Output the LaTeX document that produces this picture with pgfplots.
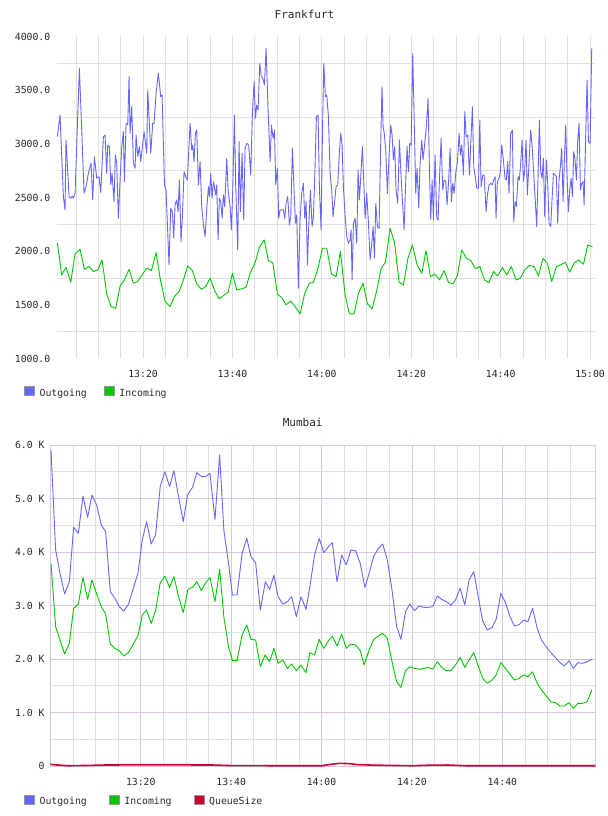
\documentclass[border=0pt]{standalone}
\usepackage{fontspec}
\setmainfont{DejaVu Sans Mono}
\usepackage{pgfplots}
\pgfplotsset{compat=1.18}

\definecolor{outblue}{RGB}{102,102,255}
\definecolor{ingreen}{RGB}{0,200,0}
\definecolor{queuered}{RGB}{204,0,51}
\definecolor{gridgray}{RGB}{224,224,224}
\definecolor{gridlav}{RGB}{218,196,224}
\definecolor{legendgray}{RGB}{150,150,150}
\definecolor{textgray}{RGB}{40,40,40}

\pgfplotsset{
  monitor/.style={
    scale only axis, anchor=south west, clip=false,
    font=\fontsize{9.8bp}{11bp}\selectfont,
    every tick label/.append style={text=textgray},
    major tick length=0pt, minor tick length=0pt,
    tick style={draw=none},
    xticklabel style={anchor=north, inner sep=0pt},
    yticklabel style={anchor=east, inner sep=0pt},
    title style={anchor=center, inner sep=0pt, text=textgray,
      font=\fontsize{11bp}{13bp}\selectfont},
    legend cell align=left,
    legend image code/.code={
      \draw[#1, fill, draw=legendgray, line width=0.6bp, solid]
        (0bp,-1.8bp) rectangle (10bp,7.2bp);},
    legend style={draw=none, fill=none, inner sep=0pt, outer sep=0pt,
      legend columns=-1, text=textgray,
      nodes={inner sep=0pt},
      /tikz/every odd column/.append style={column sep=5bp}},
  },
  traffic/.style={line width=0.9bp, line join=round, mark=none},
}

\begin{document}
\begin{tikzpicture}
\useasboundingbox (0,0) rectangle (608bp,816bp);

% ---------------- Frankfurt ----------------
\begin{axis}[monitor,
  at={(57bp,457.5bp)}, width=538bp, height=322bp,
  xmin=0.75, xmax=121.1, ymin=1000, ymax=4000,
  axis line style={draw=none},
  xtick={20,40,60,80,100,120},
  xticklabels={13:20,13:40,14:00,14:20,14:40,15:00},
  minor xtick={5,10,...,120},
  xmajorgrids, xminorgrids,
  ytick={1000,1500,...,4000},
  yticklabels={1000.0,1500.0,2000.0,2500.0,3000.0,3500.0,4000.0},
  minor ytick={1250,1750,...,3750},
  yminorgrids,
  major grid style={gridgray, line width=0.8bp},
  minor grid style={gridgray, line width=0.8bp},
  xticklabel style={yshift=-11.5bp},
  yticklabel style={xshift=-6.5bp},
  title={Frankfurt},
  title style={at={(axis description cs:0.46,1)}, yshift=16.5bp},
  legend style={at={(axis description cs:-0.0613,-0.1034)}, anchor=west,
    /tikz/every even column/.append style={column sep=17bp}},
]
\addplot[traffic, color=outblue] coordinates {
(0.84,3067) (1.43,3269) (2.18,2508) (2.55,2384) (2.77,3036) (3.45,2508) (3.82,2493) (4.19,2514)
(4.42,2493) (4.79,2539) (5.76,3703) (6.28,3129) (6.80,2539) (7.25,2601) (7.77,2725) (8.37,2818)
(8.74,2477) (9.11,2881) (9.64,2679) (10.16,2694) (10.53,2545) (11.13,3067) (11.50,3082) (11.87,2725)
(12.10,2989) (12.47,2974) (12.77,2617) (13.07,2725) (13.51,2462) (13.81,2896) (14.11,2818) (14.48,2306)
(14.86,2663) (15.23,2974) (15.60,3113) (15.83,2648) (16.20,3191) (16.57,3175) (16.87,3626) (17.10,3098)
(17.47,3346) (17.84,2818) (18.22,2772) (18.44,3082) (18.81,2881) (19.18,2974) (19.48,2834) (20.23,3113)
(20.82,2912) (21.05,3502) (21.72,2912) (22.16,3191) (22.46,3191) (22.91,3470) (23.43,3657) (23.95,3440)
(24.25,3455) (24.80,2610) (25.14,2570) (25.81,1872) (26.19,2400) (26.56,2368) (26.86,2120) (27.16,2430)
(27.53,2477) (27.83,2368) (28.13,2663) (28.50,2089) (28.80,2322) (29.17,2741) (29.54,2694) (29.92,2663)
(30.51,3191) (30.89,2943) (31.11,2989) (31.41,2834) (31.71,3098) (32.01,3129) (32.38,2617) (32.75,2834)
(33.13,2415) (33.50,2244) (33.87,2136) (34.24,2384) (34.62,2601) (34.84,2508) (35.14,2725) (35.44,2493)
(35.74,2648) (35.96,2601) (36.26,2524) (36.48,2617) (36.78,2105) (37.08,2493) (37.38,2462) (37.68,2306)
(37.97,2524) (38.27,2415) (38.72,2865) (39.02,2570) (39.47,2415) (39.76,2198) (40.06,2570) (40.44,3269)
(40.73,2601) (41.18,2011) (41.48,3020) (41.78,2368) (42.15,2912) (42.52,2291) (42.82,2958) (43.20,3005)
(43.64,2989) (44.09,2710) (44.46,3284) (44.84,3579) (45.14,3238) (45.43,3362) (45.73,3315) (46.11,3750)
(46.40,3641) (46.78,3610) (47.15,3548) (47.52,3890) (47.97,3315) (48.42,2834) (48.72,3175) (49.10,3051)
(49.40,3129) (49.68,2617) (50.05,2772) (50.35,2306) (50.65,2384) (51.02,2384) (51.39,2384) (51.69,2306)
(51.99,2446) (52.36,2508) (52.74,2244) (53.04,2322) (53.41,2958) (53.78,2570) (54.08,2260) (54.38,2337)
(54.75,1654) (55.12,2291) (55.50,2539) (55.87,2632) (56.17,2306) (56.47,2462) (56.77,1872) (57.06,2229)
(57.44,2570) (57.81,2229) (58.11,2322) (58.48,2787) (58.78,3253) (59.15,3269) (59.45,2601) (59.82,2198)
(60.12,3067) (60.42,3750) (60.79,3440) (61.09,3455) (61.47,3253) (61.84,2725) (62.21,2570) (62.51,2322)
(62.81,2446) (63.18,2601) (63.55,2617) (63.93,2927) (64.23,3098) (64.52,2989) (64.82,2601) (65.20,2322)
(65.57,2136) (65.94,2074) (66.31,2105) (66.54,2198) (66.76,1732) (67.06,2260) (67.43,2306) (67.81,2074)
(68.10,2756) (68.40,2477) (68.70,2694) (69.07,2974) (69.37,2648) (69.67,2306) (70.04,2539) (70.42,2260)
(70.79,1918) (71.16,2074) (71.46,2229) (71.76,1934) (72.06,2446) (72.43,2229) (72.80,2213) (73.18,3036)
(73.45,3533) (73.70,3160) (73.95,3098) (74.29,2943) (74.66,2539) (75.03,2881) (75.41,3175) (75.71,3082)
(76.00,2850) (76.30,2974) (76.60,2570) (76.97,2446) (77.35,3036) (77.72,2694) (78.02,2477) (78.39,2198)
(78.76,2648) (79.06,2974) (79.36,2741) (79.66,3005) (79.96,2989) (80.33,3843) (80.70,3129) (81.00,2539)
(81.30,2772) (81.67,2400) (81.97,2818) (82.35,3036) (82.64,2850) (82.94,2974) (83.31,3129) (83.76,3424)
(84.06,2756) (84.36,2291) (84.66,2663) (84.96,2291) (85.33,2896) (85.70,2306) (86.00,2291) (86.30,2663)
(86.67,3051) (87.04,2570) (87.34,2663) (87.72,2648) (88.01,2430) (88.39,2679) (88.69,2958) (88.98,2462)
(89.28,2632) (89.58,2539) (89.95,2725) (90.33,2834) (90.70,3098) (91.00,2896) (91.30,2989) (91.67,2710)
(91.97,3300) (92.27,3067) (92.64,3082) (93.01,2710) (93.31,3005) (93.68,3346) (93.98,2787) (94.36,2679)
(94.65,2586) (95.03,2586) (95.33,3222) (95.62,2601) (96.00,2710) (96.30,2710) (96.74,2368) (97.04,2524)
(97.41,2617) (97.79,2632) (98.09,2617) (98.46,2663) (98.76,2694) (98.96,2306) (99.26,2648) (99.63,2679)
(99.93,2741) (100.23,2989) (100.60,2850) (100.98,2679) (101.27,2663) (101.57,2834) (101.87,2539) (102.24,3098)
(102.62,3129) (102.92,2275) (103.21,2462) (103.51,2415) (103.89,2694) (104.18,2663) (104.48,2818) (104.78,3036)
(105.08,2648) (105.38,2756) (105.68,3036) (105.97,2524) (106.35,2834) (106.72,3129) (107.09,2943) (107.39,2725)
(107.69,2508) (108.06,2229) (108.36,2694) (108.66,3222) (108.96,2741) (109.26,2679) (109.56,2865) (109.85,2322)
(110.23,2850) (110.52,2632) (110.82,2260) (111.20,2229) (111.49,2477) (111.79,2725) (112.17,2710) (112.46,2694)
(112.76,2260) (113.06,2663) (113.36,2787) (113.66,2958) (113.96,2462) (114.25,2850) (114.55,3175) (114.85,2694)
(115.15,2368) (115.45,2570) (115.75,2679) (116.05,2508) (116.34,2927) (116.64,2850) (116.94,2663) (117.24,3036)
(117.54,3191) (117.84,2570) (118.13,2632) (118.43,2648) (118.66,2431) (119.03,3098) (119.33,3594) (119.63,3020)
(120.00,3005) (120.37,3890) (120.52,3890)
};
\addlegendentry{Outgoing}
\addplot[traffic, color=ingreen] coordinates {
(0.84,2074) (1.80,1779) (2.77,1850) (3.82,1710) (4.79,1974) (5.91,2018) (6.88,1831) (7.92,1856)
(8.89,1810) (9.86,1825) (10.83,1918) (11.87,1602) (12.85,1484) (13.89,1468) (14.86,1676) (15.83,1732)
(16.87,1831) (17.84,1701) (18.81,1717) (19.86,1785) (20.83,1841) (21.87,1819) (22.91,1987) (23.81,1748)
(24.93,1530) (26.04,1484) (27.01,1577) (28.05,1624) (29.02,1732) (29.99,1862) (31.04,1819) (32.01,1695)
(33.05,1645) (34.02,1670) (34.99,1748) (35.96,1639) (37.00,1555) (37.97,1586) (39.02,1617) (39.99,1794)
(40.96,1639) (42.00,1648) (43.05,1664) (43.94,1794) (45.06,1893) (46.03,2036) (47.08,2105) (48.05,1912)
(49.02,1893) (50.05,1599) (51.02,1568) (51.99,1499) (53.04,1537) (54.00,1484) (55.12,1416) (56.17,1608)
(57.21,1701) (58.11,1710) (59.08,1831) (60.12,2027) (61.09,2027) (62.14,1788) (63.18,1763) (64.15,1996)
(65.20,1592) (66.16,1416) (67.21,1416) (68.18,1608) (69.22,1701) (70.19,1509) (71.24,1462) (72.28,1633)
(73.25,1838) (74.21,1897) (75.26,2213) (76.23,2089) (77.27,1710) (78.24,1686) (79.29,1940) (80.26,2058)
(81.30,1872) (82.35,1794) (83.31,2005) (84.28,1763) (85.33,1785) (86.30,1732) (87.34,1819) (88.31,1710)
(89.36,1695) (90.33,1772) (91.30,2011) (92.34,1934) (93.31,1912) (94.36,1835) (95.33,1856) (96.37,1732)
(97.37,1707) (98.38,1810) (99.33,1770) (100.38,1847) (101.35,1779) (102.39,1856) (103.44,1732) (104.41,1748)
(105.45,1831) (106.42,1866) (107.47,1856) (108.44,1770) (109.48,1934) (110.45,1887) (111.42,1717) (112.46,1856)
(113.43,1872) (114.48,1897) (115.45,1804) (116.49,1893) (117.46,1918) (118.51,1878) (119.48,2058) (120.52,2042)
};
\addlegendentry{Incoming}
\end{axis}

% ---------------- Mumbai ----------------
\begin{axis}[monitor,
  at={(50.4bp,50bp)}, width=545bp, height=321bp,
  xmin=0, xmax=120.6, ymin=0, ymax=6000,
  axis line style={draw=gridlav, line width=0.8bp},
  xtick={20,40,60,80,100},
  xticklabels={13:20,13:40,14:00,14:20,14:40},
  minor xtick={5,10,15,25,30,35,45,50,55,65,70,75,85,90,95,105,110,115},
  ytick={0,1000,...,6000},
  yticklabels={0,1.0 K,2.0 K,3.0 K,4.0 K,5.0 K,6.0 K},
  minor ytick={500,1500,...,5500},
  xmajorgrids, xminorgrids, ymajorgrids, yminorgrids,
  major grid style={gridlav, line width=0.8bp},
  minor grid style={gridgray, line width=0.8bp},
  xticklabel style={yshift=-12bp},
  yticklabel style={xshift=-5.7bp},
  title={Mumbai},
  title style={at={(axis description cs:0.463,1)}, yshift=16.7bp},
  legend style={at={(axis description cs:-0.0484,-0.1075)}, anchor=west,
    /tikz/every even column/.append style={column sep=22bp}},
]
\addplot[traffic, color=outblue] coordinates {
(0.13,5906) (1.16,4037) (2.12,3601) (3.15,3215) (4.19,3445) (5.14,4461) (6.18,4349) (7.21,5046)
(8.24,4648) (9.20,5065) (10.23,4878) (11.26,4504) (12.22,4380) (13.25,3258) (14.28,3134) (15.24,2978)
(16.27,2897) (17.30,3028) (18.34,3321) (19.37,3601) (20.33,4224) (21.28,4567) (22.32,4149) (23.27,4318)
(24.31,5233) (25.34,5501) (26.37,5221) (27.33,5520) (28.36,5034) (29.39,4567) (30.35,5065) (31.45,5209)
(32.40,5483) (33.42,5408) (34.28,5408) (35.31,5470) (36.42,4611) (37.45,5813) (38.39,4400) (39.42,3788)
(40.28,3196) (41.31,3196) (42.42,3975) (43.45,4255) (44.39,3913) (45.42,3800) (46.45,2916) (47.56,3445)
(48.51,3302) (49.45,3570) (50.39,3165) (51.42,3028) (52.45,3072) (53.39,3165) (54.42,2791) (55.45,3165)
(56.56,2928) (57.42,3352) (58.45,3944) (59.48,4255) (60.50,3987) (61.53,4100) (62.39,4174) (63.42,3445)
(64.45,3944) (65.48,3757) (66.50,4037) (67.53,4025) (68.56,3788) (69.59,3339) (70.53,3601) (71.56,3925)
(72.59,4068) (73.53,4149) (74.56,3850) (75.59,3290) (76.62,2604) (77.56,2368) (78.59,2885) (79.53,3028)
(80.56,2903) (81.59,2991) (82.62,2966) (83.64,2966) (84.59,2978) (85.62,3177) (86.56,3115) (87.59,3072)
(88.61,3009) (89.64,3103) (90.67,3321) (91.70,3009) (92.64,3476) (93.67,3632) (94.61,3196) (95.64,2716)
(96.67,2542) (97.70,2586) (98.64,2741) (99.67,3227) (100.70,3053) (101.64,2804) (102.67,2617) (103.70,2642)
(104.73,2729) (105.67,2698) (106.70,2947) (107.72,2573) (108.67,2355) (109.70,2231) (110.73,2120) (111.75,2030)
(112.78,1931) (113.72,1869) (114.75,1969) (115.70,1825) (116.72,1931) (117.75,1919) (118.78,1950) (119.81,1994)
};
\addlegendentry{Outgoing}
\addplot[traffic, color=ingreen] coordinates {
(0.13,3788) (1.16,2604) (2.12,2355) (3.15,2093) (4.19,2293) (5.14,2947) (6.18,3022) (7.21,3526)
(8.24,3115) (9.20,3476) (10.23,3215) (11.26,2978) (12.22,2841) (13.25,2280) (14.28,2199) (15.24,2156)
(16.27,2056) (17.30,2125) (18.34,2280) (19.37,2436) (20.33,2822) (21.28,2916) (22.32,2667) (23.27,2903)
(24.31,3427) (25.34,3551) (26.37,3339) (27.33,3539) (28.36,3165) (29.39,2866) (30.42,3302) (31.45,3339)
(32.40,3445) (33.42,3277) (34.28,3414) (35.31,3526) (36.42,3072) (37.45,3676) (38.39,2779) (39.42,2231)
(40.28,1969) (41.31,1969) (42.42,2449) (43.45,2635) (44.39,2368) (45.42,2355) (46.45,1856) (47.48,2075)
(48.51,1950) (49.45,2199) (50.39,1919) (51.42,1981) (52.45,1825) (53.39,1906) (54.42,1782) (55.45,1888)
(56.56,1744) (57.42,2118) (58.45,2075) (59.48,2368) (60.50,2199) (61.53,2343) (62.39,2430) (63.42,2243)
(64.45,2467) (65.48,2199) (66.50,2280) (67.53,2262) (68.56,2156) (69.42,1888) (70.53,2168) (71.56,2368)
(72.59,2430) (73.53,2480) (74.56,2386) (75.59,1950) (76.62,1576) (77.56,1470) (78.59,1782) (79.53,1856)
(80.56,1825) (81.59,1807) (82.62,1825) (83.64,1844) (84.59,1807) (85.62,1950) (86.56,1844) (87.59,1782)
(88.61,1782) (89.64,1888) (90.67,2031) (91.70,1844) (92.64,1981) (93.67,2118) (94.61,1888) (95.64,1638)
(96.67,1545) (97.70,1607) (98.64,1701) (99.67,1931) (100.70,1825) (101.64,1720) (102.67,1607) (103.70,1638)
(104.73,1701) (105.67,1670) (106.70,1763) (107.72,1545) (108.67,1420) (109.70,1308) (110.73,1202) (111.75,1184)
(112.78,1121) (113.72,1121) (114.75,1184) (115.70,1078) (116.72,1171) (117.75,1171) (118.78,1202) (119.81,1420)
};
\addlegendentry{Incoming}
\addplot[traffic, color=queuered, line width=1.6bp] coordinates {
(0,30) (2,15) (4,5) (8,10) (12,18) (20,22) (30,20) (36,18) (40,8) (50,5) (60,5) (62,30)
(64,50) (66,45) (68,25) (72,15) (76,10) (80,5) (84,15) (88,18) (92,5) (100,5) (110,5) (120.6,5)
};
\addlegendentry{QueueSize}
\end{axis}
\end{tikzpicture}
\end{document}
